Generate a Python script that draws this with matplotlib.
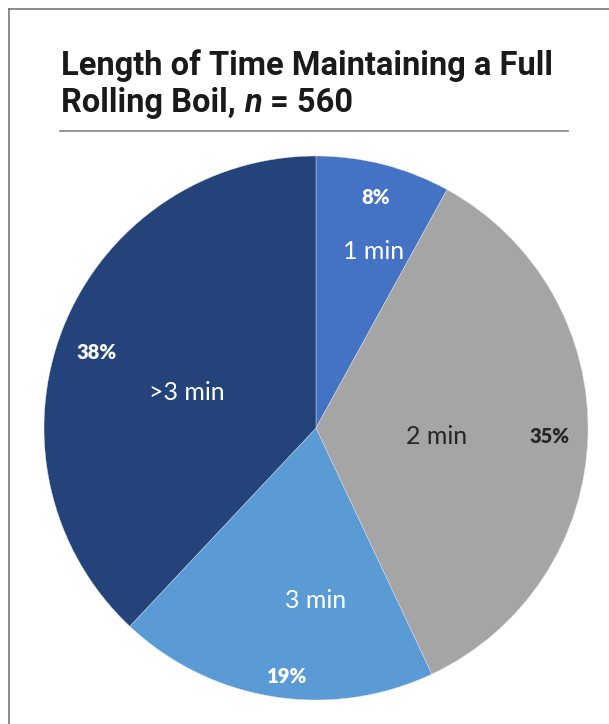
import matplotlib
matplotlib.use("Agg")
import matplotlib.pyplot as plt
from matplotlib.lines import Line2D

# Survey data
categories = ["1 min", "2 min", "3 min", ">3 min"]
shares = [8, 35, 19, 38]
colors = ["#4472C4", "#A5A5A5", "#5B9BD5", "#24437A"]
label_colors = ["white", "#262626", "white", "white"]

# Label anchors in pie units (radius = 1): category name, then percentage
name_pos = [(0.21, 0.65), (0.445, -0.033), (0.0, -0.636), (-0.474, 0.132)]
pct_pos = [(0.22, 0.846), (0.857, -0.033), (-0.107, -0.915), (-0.805, 0.276)]

W, H = 609, 724
fig = plt.figure(figsize=(W / 100, H / 100), dpi=100)
fig.patch.set_facecolor("white")

# Outer frame (left and top edges visible)
frame_col = "#6e6e6e"
fig.add_artist(Line2D([9 / W, 9 / W], [0, 1 - 9 / H], color=frame_col, lw=1.1,
                      transform=fig.transFigure))
fig.add_artist(Line2D([9 / W, 1], [1 - 9 / H, 1 - 9 / H], color=frame_col, lw=1.1,
                      transform=fig.transFigure))

# Title
title_font = ["Liberation Sans Narrow", "Roboto", "DejaVu Sans"]
title_kw = dict(fontsize=23.5, fontweight="bold", family=title_font, color="#1a1a1a",
                ha="left", va="baseline")
fig.text(61 / W, 1 - 75 / H, "Length of Time Maintaining a Full", **title_kw)
part1 = fig.text(61 / W, 1 - 112 / H, "Rolling Boil, ", **title_kw)
renderer = fig.canvas.get_renderer()
x_px = part1.get_window_extent(renderer).x1
part2 = fig.text(x_px / W, 1 - 112 / H, "n", style="italic", **title_kw)
x_px = part2.get_window_extent(renderer).x1
fig.text(x_px / W, 1 - 112 / H, " = 560", **title_kw)

# Rule under the title
fig.add_artist(Line2D([60 / W, 568 / W], [1 - 131 / H, 1 - 131 / H], color="#8c8c8c",
                      lw=1.3, transform=fig.transFigure))

# Pie
cx, cy, r = 316, 428, 272
ax = fig.add_axes([(cx - r) / W, (H - cy - r) / H, 2 * r / W, 2 * r / H])
ax.pie(shares, colors=colors, startangle=90, counterclock=False, radius=1,
       wedgeprops=dict(linewidth=0.3, edgecolor="#dfe3ea"))
ax.set_xlim(-1, 1)
ax.set_ylim(-1, 1)
ax.set_aspect("equal")
ax.axis("off")

label_font = ["Lato", "DejaVu Sans"]
for name, val, col, npos, ppos in zip(categories, shares, label_colors, name_pos, pct_pos):
    ax.text(npos[0], npos[1], name, ha="center", va="center", fontsize=18,
            family=label_font, color=col)
    ax.text(ppos[0], ppos[1], f"{val}%", ha="center", va="center", fontsize=14.5,
            fontweight="heavy", family=label_font, color=col)

fig.savefig("out.png", dpi=100)
